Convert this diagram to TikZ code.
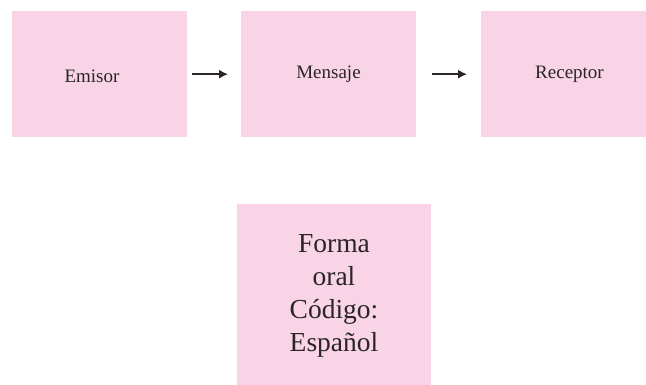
\documentclass[tikz,border=0pt]{standalone}
\usepackage{fontspec}
\setmainfont{Liberation Serif}
\usetikzlibrary{arrows.meta}
\definecolor{boxpink}{HTML}{F8D4E6}
\definecolor{ink}{HTML}{2B2526}
\tikzset{
  pinkbox/.style={fill=boxpink, draw=none, inner sep=0pt, anchor=north west},
  toplabel/.style={text=ink, font=\fontsize{19}{22}\selectfont, anchor=base, inner sep=0pt},
  biglabel/.style={text=ink, font=\fontsize{27.5}{33}\selectfont, align=center, inner sep=0pt},
  flowarrow/.style={draw=ink, line width=1.4pt, -{Latex[length=9pt,width=9pt]}}
}
\begin{document}
\begin{tikzpicture}[x=1pt,y=-1pt]
\useasboundingbox (0,0) rectangle (646,385);
\node[pinkbox, minimum width=175pt, minimum height=126pt] (emisor) at (12,11) {};
\node[pinkbox, minimum width=175pt, minimum height=126pt] (mensaje) at (241,11) {};
\node[pinkbox, minimum width=165pt, minimum height=126pt] (receptor) at (481,11) {};
\node[pinkbox, minimum width=194pt, minimum height=181pt] (forma) at (237,204) {};
\node[toplabel] (temisor) at (92,83) {Emisor};
\node[toplabel] (tmensaje) at (328.5,79) {Mensaje};
\node[toplabel] (treceptor) at (569.5,79) {Receptor};
\node[biglabel] (tforma) at (334,296) {Forma\\oral\\Código:\\Español};
\draw[flowarrow, shorten <=5pt, shorten >=13pt] (emisor.east) -- (mensaje.west);
\draw[flowarrow, shorten <=16pt, shorten >=14pt] (mensaje.east) -- (receptor.west);
\end{tikzpicture}
\end{document}
